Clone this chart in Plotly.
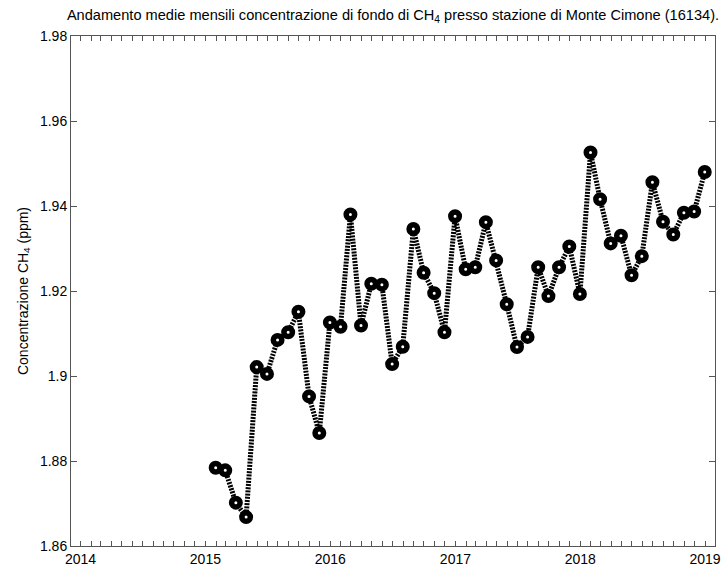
import pandas as pd
import plotly.graph_objects as go

# Monthly mean background CH4 concentration (ppm), Jan 2015 - Dec 2018
years = [2015, 2016, 2017, 2018]
ch4_2015 = [1.8784, 1.8778, 1.8702, 1.8668, 1.9021, 1.9005,
            1.9085, 1.9103, 1.9151, 1.8952, 1.8866, 1.9126]
ch4_2016 = [1.9116, 1.9380, 1.9119, 1.9217, 1.9215, 1.9028,
            1.9069, 1.9346, 1.9243, 1.9195, 1.9103, 1.9376]
ch4_2017 = [1.9251, 1.9256, 1.9362, 1.9272, 1.9169, 1.9068,
            1.9092, 1.9256, 1.9188, 1.9256, 1.9305, 1.9193]
ch4_2018 = [1.9526, 1.9416, 1.9312, 1.9330, 1.9237, 1.9282,
            1.9456, 1.9363, 1.9333, 1.9384, 1.9387, 1.9480]

y_tickvals = [1.86, 1.88, 1.90, 1.92, 1.94, 1.96, 1.98]
y_ticktext = ["1.86", "1.88", "1.9", "1.92", "1.94", "1.96", "1.98"]

values = ch4_2015 + ch4_2016 + ch4_2017 + ch4_2018
# each monthly mean is stamped at the end of its month
dates = pd.date_range(start=f"{years[0]}-01-01", periods=len(values), freq="ME")

font = "Liberation Sans, Arial, sans-serif"
axis_col = "#555555"

fig = go.Figure()
fig.add_trace(go.Scatter(
    x=dates, y=values,
    mode="lines+markers",
    line=dict(color="black", width=5, dash="2px,1.2px"),
    marker=dict(symbol="circle", size=8.5, color="white",
                line=dict(color="black", width=5.5)),
    showlegend=False,
))

fig.update_layout(
    width=721, height=567,
    margin=dict(l=71, r=6, t=36, b=21, autoexpand=False),
    paper_bgcolor="white", plot_bgcolor="white",
    font=dict(family=font, size=14, color="black"),
    title=dict(
        text="Andamento medie mensili concentrazione di fondo di CH<sub>4</sub> presso stazione di Monte Cimone (16134).",
        font=dict(family=font, size=14.6, color="black"),
        x=0.5, xref="paper", xanchor="center",
        y=1 - 15 / 567, yref="container", yanchor="middle",
    ),
    xaxis=dict(
        type="date", automargin=False,
        range=["2013-12-04", "2019-01-30"],
        tick0="2014-01-01", dtick="M12", tickformat="%Y",
        ticks="inside", ticklen=5, tickcolor=axis_col,
        minor=dict(ticks="inside", dtick="M1", ticklen=5, tickcolor=axis_col),
        showline=True, linecolor=axis_col, linewidth=1, mirror="ticks",
        showgrid=False, zeroline=False,
        tickfont=dict(size=14),
    ),
    yaxis=dict(
        automargin=False,
        range=[1.86, 1.98],
        tickvals=y_tickvals, ticktext=y_ticktext,
        ticks="inside", ticklen=6, tickcolor=axis_col,
        showline=True, linecolor=axis_col, linewidth=1, mirror="ticks",
        showgrid=False, zeroline=False,
        tickfont=dict(size=14),
        title=dict(text="Concentrazione CH<sub>4</sub> (ppm)", standoff=8,
                   font=dict(size=14)),
    ),
)

fig.write_html("out.html")
